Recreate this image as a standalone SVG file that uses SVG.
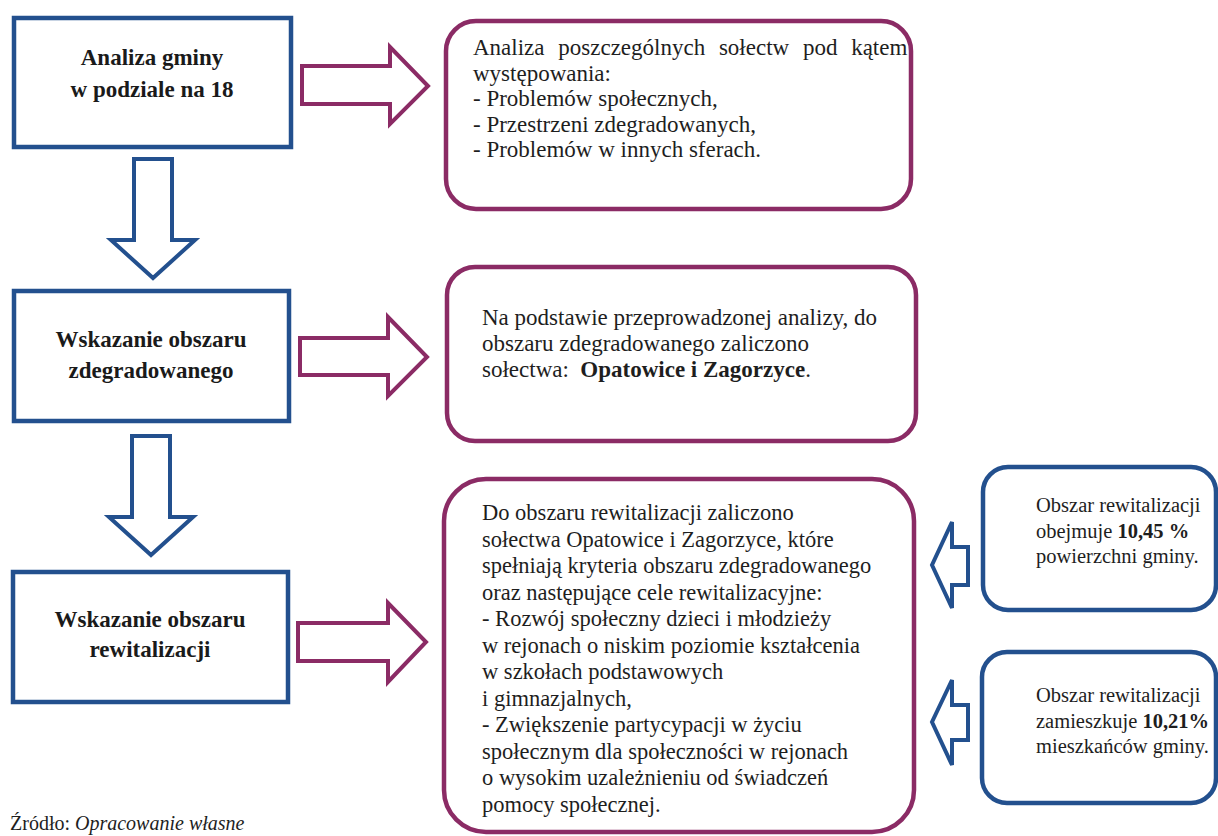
<svg xmlns="http://www.w3.org/2000/svg" width="1218" height="836" viewBox="0 0 1218 836">
<style>
.bbox{fill:#fff;stroke:#23508e;stroke-width:4.5}
.pbox{fill:#fff;stroke:#8b2b65;stroke-width:4.5}
.barr{fill:#fff;stroke:#23508e;stroke-width:4;stroke-linejoin:miter}
.parr{fill:#fff;stroke:#8b2b65;stroke-width:4;stroke-linejoin:miter}
text{font-family:"Liberation Serif","DejaVu Serif",serif;fill:#1e1e1e}
.lt{font-size:23px;font-weight:bold;fill:#1a1a1a;text-anchor:middle}
.pt{font-size:23px}
.pt3{font-size:22.5px}
.st{font-size:20.5px}
.b{font-weight:bold}
.src{font-size:20px}
</style>
<rect width="1218" height="836" fill="#fff"/>
<g id="connectors">
<polygon class="barr" points="134,159 172,159 172,240 195,240 153,278 111,240 134,240"/>
<polygon class="barr" points="132,436 170,436 170,517 193,517 151,555 109,517 132,517"/>
<polygon class="parr" points="302,66 390,66 390,47 428,86 390,124 390,104 302,104"/>
<polygon class="parr" points="300,338 388,338 388,317 427,357 388,396 388,375 300,375"/>
<polygon class="parr" points="298,623 388,623 388,603 426,642 388,682 388,661 298,661"/>
<polygon class="barr" points="968,547 952,547 952,522 932,565 952,608 952,585 968,585"/>
<polygon class="barr" points="968,705 952,705 952,680 932,722 952,765 952,740 968,740"/>
</g>
<g id="node-analiza-gminy">
<rect class="bbox" x="14" y="18" width="277" height="129"/>
<text class="lt" x="152" y="65">Analiza gminy</text>
<text class="lt" x="152" y="97">w podziale na 18</text>
</g>
<g id="node-wskazanie-zdegradowanego">
<rect class="bbox" x="14" y="291" width="275" height="130"/>
<text class="lt" x="151" y="347">Wskazanie obszaru</text>
<text class="lt" x="151" y="378">zdegradowanego</text>
</g>
<g id="node-wskazanie-rewitalizacji">
<rect class="bbox" x="13" y="572" width="275" height="130"/>
<text class="lt" x="150" y="627">Wskazanie obszaru</text>
<text class="lt" x="150" y="657">rewitalizacji</text>
</g>
<g id="node-analiza-solectw">
<rect class="pbox" x="446" y="21" width="465" height="188" rx="30"/>
<text class="pt" x="473" y="55" word-spacing="8">Analiza poszczególnych sołectw pod kątem</text>
<text class="pt" x="473" y="80.5">występowania:</text>
<text class="pt" x="473" y="106">- Problemów społecznych,</text>
<text class="pt" x="473" y="131.5">- Przestrzeni zdegradowanych,</text>
<text class="pt" x="473" y="157">- Problemów w innych sferach.</text>
</g>
<g id="node-obszar-zdegradowany">
<rect class="pbox" x="447" y="267" width="469" height="174" rx="28"/>
<text class="pt" x="482" y="325">Na podstawie przeprowadzonej analizy, do</text>
<text class="pt" x="482" y="351">obszaru zdegradowanego zaliczono</text>
<text class="pt" x="482" y="377" xml:space="preserve">sołectwa:  <tspan class="b">Opatowice i Zagorzyce</tspan>.</text>
</g>
<g id="node-obszar-rewitalizacji">
<rect class="pbox" x="444" y="479" width="470" height="353" rx="42"/>
<text class="pt3" x="482" y="520">Do obszaru rewitalizacji zaliczono</text>
<text class="pt3" x="482" y="546.5">sołectwa Opatowice i Zagorzyce, które</text>
<text class="pt3" x="482" y="573">spełniają kryteria obszaru zdegradowanego</text>
<text class="pt3" x="482" y="599.5">oraz następujące cele rewitalizacyjne:</text>
<text class="pt3" x="482" y="626">- Rozwój społeczny dzieci i młodzieży</text>
<text class="pt3" x="482" y="652.5">w rejonach o niskim poziomie kształcenia</text>
<text class="pt3" x="482" y="679">w szkołach podstawowych</text>
<text class="pt3" x="482" y="705.5">i gimnazjalnych,</text>
<text class="pt3" x="482" y="732">- Zwiększenie partycypacji w życiu</text>
<text class="pt3" x="482" y="758.5">społecznym dla społeczności w rejonach</text>
<text class="pt3" x="482" y="785">o wysokim uzależnieniu od świadczeń</text>
<text class="pt3" x="482" y="811.5">pomocy społecznej.</text>
</g>
<g id="node-powierzchnia">
<rect class="bbox" x="983" y="467" width="233" height="143" rx="25"/>
<text class="st" x="1036" y="512">Obszar rewitalizacji</text>
<text class="st" x="1036" y="537.5">obejmuje <tspan class="b">10,45 %</tspan></text>
<text class="st" x="1036" y="563">powierzchni gminy.</text>
</g>
<g id="node-mieszkancy">
<rect class="bbox" x="982" y="652" width="234" height="151" rx="25"/>
<text class="st" x="1036" y="702">Obszar rewitalizacji</text>
<text class="st" x="1036" y="728">zamieszkuje <tspan class="b">10,21%</tspan></text>
<text class="st" x="1036" y="753">mieszkańców gminy.</text>
</g>
<text class="src" x="10" y="830">Źródło: <tspan font-style="italic">Opracowanie własne</tspan></text>
</svg>
